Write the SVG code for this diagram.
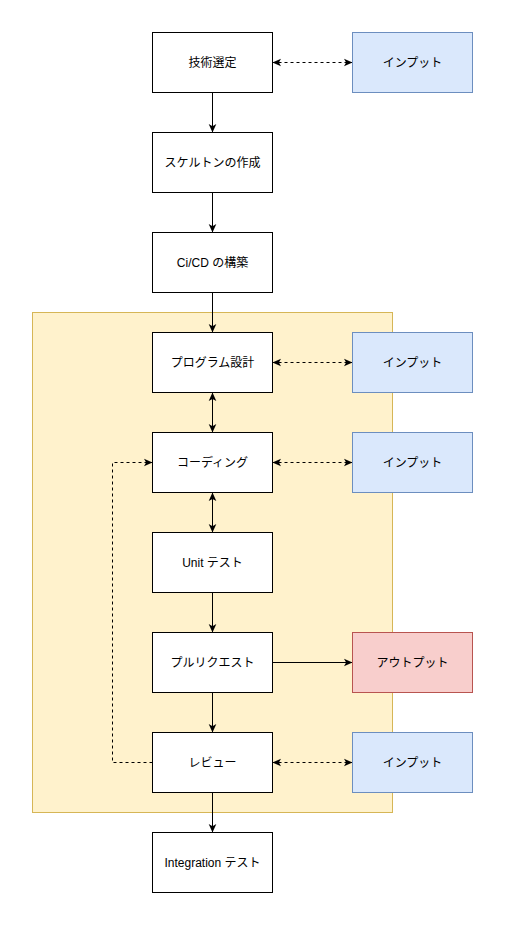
<svg xmlns="http://www.w3.org/2000/svg" width="505" height="925" viewBox="0 0 505 925">
<style>
.n{fill:#ffffff;stroke:#000000;stroke-width:1}
.in{fill:#dae8fc;stroke:#6c8ebf;stroke-width:1}
.out{fill:#f8cecc;stroke:#b85450;stroke-width:1}
.grp{fill:#fff2cc;stroke:#d6b656;stroke-width:1}
text{font-family:"Liberation Sans","Noto Sans CJK JP",sans-serif;font-size:12px;fill:#000000;text-anchor:middle;dominant-baseline:central}
.c{fill:none;stroke:#000000;stroke-width:1}
.d{stroke-dasharray:3 3}
</style>
<defs>
<marker id="a" markerUnits="userSpaceOnUse" viewBox="0 0 10 10" refX="10" refY="5" markerWidth="8.5" markerHeight="8.5" orient="auto-start-reverse">
<path d="M0,0.5 L10,5 L0,9.5 L2.5,5 Z" fill="#000000"/>
</marker>
</defs>
<g id="phase">
<rect class="grp" x="32.5" y="312.5" width="360" height="500"/>
</g>
<g id="connectors">
<path class="c" d="M212.5,92.5 V132.5" marker-end="url(#a)"/>
<path class="c" d="M212.5,192.5 V232.5" marker-end="url(#a)"/>
<path class="c" d="M212.5,292.5 V332.5" marker-end="url(#a)"/>
<path class="c" d="M212.5,392.5 V432.5" marker-start="url(#a)" marker-end="url(#a)"/>
<path class="c" d="M212.5,492.5 V532.5" marker-start="url(#a)" marker-end="url(#a)"/>
<path class="c" d="M212.5,592.5 V632.5" marker-end="url(#a)"/>
<path class="c" d="M212.5,692.5 V732.5" marker-end="url(#a)"/>
<path class="c" d="M212.5,792.5 V832.5" marker-end="url(#a)"/>
<path class="c d" d="M272.5,62.5 H352.5" marker-start="url(#a)" marker-end="url(#a)"/>
<path class="c d" d="M272.5,362.5 H352.5" marker-start="url(#a)" marker-end="url(#a)"/>
<path class="c d" d="M272.5,462.5 H352.5" marker-start="url(#a)" marker-end="url(#a)"/>
<path class="c d" d="M272.5,762.5 H352.5" marker-start="url(#a)" marker-end="url(#a)"/>
<path class="c" d="M272.5,662.5 H352.5" marker-end="url(#a)"/>
<path class="c d" d="M152.5,762.5 H112.5 V462.5 H152.5" marker-end="url(#a)"/>
</g>
<g id="n1"><rect class="n" x="152.5" y="32.5" width="120" height="60"/><text x="212.5" y="62.5">技術選定</text></g>
<g id="n2"><rect class="n" x="152.5" y="132.5" width="120" height="60"/><text x="212.5" y="162.5">スケルトンの作成</text></g>
<g id="n3"><rect class="n" x="152.5" y="232.5" width="120" height="60"/><text x="212.5" y="262.5">Ci/CD の構築</text></g>
<g id="n4"><rect class="n" x="152.5" y="332.5" width="120" height="60"/><text x="212.5" y="362.5">プログラム設計</text></g>
<g id="n5"><rect class="n" x="152.5" y="432.5" width="120" height="60"/><text x="212.5" y="462.5">コーディング</text></g>
<g id="n6"><rect class="n" x="152.5" y="532.5" width="120" height="60"/><text x="212.5" y="562.5">Unit テスト</text></g>
<g id="n7"><rect class="n" x="152.5" y="632.5" width="120" height="60"/><text x="212.5" y="662.5">プルリクエスト</text></g>
<g id="n8"><rect class="n" x="152.5" y="732.5" width="120" height="60"/><text x="212.5" y="762.5">レビュー</text></g>
<g id="n9"><rect class="n" x="152.5" y="832.5" width="120" height="60"/><text x="212.5" y="862.5">Integration テスト</text></g>
<g id="i1"><rect class="in" x="352.5" y="32.5" width="120" height="60"/><text x="412.5" y="62.5">インプット</text></g>
<g id="i2"><rect class="in" x="352.5" y="332.5" width="120" height="60"/><text x="412.5" y="362.5">インプット</text></g>
<g id="i3"><rect class="in" x="352.5" y="432.5" width="120" height="60"/><text x="412.5" y="462.5">インプット</text></g>
<g id="o1"><rect class="out" x="352.5" y="632.5" width="120" height="60"/><text x="412.5" y="662.5">アウトプット</text></g>
<g id="i4"><rect class="in" x="352.5" y="732.5" width="120" height="60"/><text x="412.5" y="762.5">インプット</text></g>
</svg>
